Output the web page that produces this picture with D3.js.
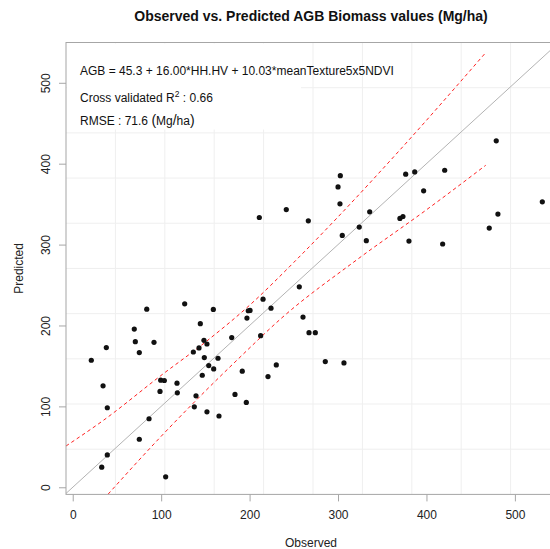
<!DOCTYPE html>
<html>
<head>
<meta charset="utf-8">
<script src="https://cdn.jsdelivr.net/npm/d3@7"></script>
<style>
  body { margin: 0; background: #fff; }
  svg { font-family: "Liberation Sans", Arial, sans-serif; }
</style>
</head>
<body>
<div id="chart"></div>
<script>
// observed vs predicted AGB (Mg/ha)
const observed = [211, 241.5, 83.7, 126.6, 159, 144.3, 197, 198.5, 200.5, 215.2, 224.2, 69.6, 256.2,
                  478.9, 302.6, 300, 302.2, 376.5, 386.7, 420.6, 396.8, 531, 480.8, 471, 335.8, 324,
                  370, 373.4, 266.4, 304.8, 332, 380.2, 418.3, 260.4, 70.8, 38, 91.9, 75.3, 21, 136.4,
                  142.8, 148.4, 151.8, 148.8, 164.3, 179.8, 153.8, 159.4, 146.5, 191.7, 212.5, 220.8,
                  230.2, 99.5, 103.6, 117.9, 34.3, 98.7, 118.3, 139.4, 183.5, 137.5, 151.8, 165.4,
                  196.3, 39.1, 86.3, 75.3, 39.1, 32.8, 105.1, 267.2, 274.3, 285.6, 306.7];
const predicted = [333.5, 343.3, 220.2, 226.8, 219.8, 202.2, 209.1, 218.2, 218.6, 232.5, 221.4, 195.6, 247.8,
                   428.3, 385.2, 371.3, 350.4, 387, 389.8, 391.9, 366.4, 352.8, 337.7, 320.4, 340.5, 321.7,
                   332.3, 334.7, 329.4, 311.3, 304.8, 304.4, 300.7, 210.4, 180, 172.7, 179.2, 166.5, 157, 167.2,
                   172.2, 181.7, 177.1, 160.3, 159.5, 185, 150.5, 146.3, 138.5, 143.5, 187.4, 136.9,
                   151.2, 132.4, 132, 128.7, 125.4, 118.5, 116.8, 113.1, 114.8, 99.5, 93.3, 88.1,
                   104.9, 98.3, 84.7, 59.4, 40, 24.9, 12.9, 191.1, 191.1, 155.4, 153.7];

// confidence band (red dashed)
const upperObs  = [-7.6, 35, 99, 153, 202, 250, 298.5, 370, 466];
const upperPred = [51, 83, 137.5, 182, 227, 278, 332.5, 417, 536];
const lowerObs  = [40, 100, 150, 187, 236, 321, 400, 467];
const lowerPred = [-8.5, 63, 119, 158.5, 209, 281, 343, 398];

const xTicks = [0, 100, 200, 300, 400, 500];
const yTicks = [0, 100, 200, 300, 400, 500];

const title = "Observed vs. Predicted AGB Biomass values (Mg/ha)";
const equation = "AGB = 45.3 + 16.00*HH.HV + 10.03*meanTexture5x5NDVI";
const r2 = "0.66";
const rmse = "71.6";

const W = 550, H = 549;
const plot = {left: 66, right: 560, top: 42.5, bottom: 494.4};
const axisColor = "#a6a6a6";
const gridColor = "#efefef";

const svg = d3.select("#chart")
              .append("svg")
              .attr("width", W)
              .attr("height", H);

const xScale = d3.scaleLinear().domain([-7.6, 551]).range([plot.left, plot.right]);
const yScale = d3.scaleLinear().domain([-8.8, 549.8]).range([plot.bottom, plot.top]);

svg.append("clipPath").attr("id", "clip")
   .append("rect")
   .attr("x", plot.left).attr("y", plot.top)
   .attr("width", plot.right - plot.left).attr("height", plot.bottom - plot.top);

// grid: 10 x 10 divisions of the plot region
const gx = d3.range(1, 10).map(i => plot.left + i * (plot.right - plot.left) / 10);
const gy = d3.range(1, 10).map(i => plot.top + i * (plot.bottom - plot.top) / 10);
const grid = svg.append("g").attr("stroke", gridColor).attr("stroke-width", 1);
grid.selectAll(".gx").data(gx).join("line")
    .attr("x1", d => d).attr("x2", d => d)
    .attr("y1", plot.top).attr("y2", plot.bottom);
grid.selectAll(".gy").data(gy).join("line")
    .attr("y1", d => d).attr("y2", d => d)
    .attr("x1", plot.left).attr("x2", plot.right);

// legend background
svg.append("rect")
   .attr("x", plot.left + 1).attr("y", plot.top + 1)
   .attr("width", 234).attr("height", 86)
   .attr("fill", "#fff");

const body = svg.append("g").attr("clip-path", "url(#clip)");

// 1:1 line
body.append("line")
    .attr("x1", xScale(-20)).attr("y1", yScale(-20))
    .attr("x2", xScale(600)).attr("y2", yScale(600))
    .attr("stroke", "#b3b3b3").attr("stroke-width", 1);

// bands
const band = d3.line().x(d => xScale(d[0])).y(d => yScale(d[1])).curve(d3.curveMonotoneX);
[[upperObs, upperPred], [lowerObs, lowerPred]].forEach(([xs, ys]) => {
    body.append("path")
        .attr("d", band(xs.map((x, i) => [x, ys[i]])))
        .attr("fill", "none")
        .attr("stroke", "#ff2020")
        .attr("stroke-width", 1)
        .attr("stroke-dasharray", "3.5,3");
});

// points
body.selectAll("circle")
    .data(observed.map((o, i) => [o, predicted[i]]))
    .join("circle")
    .attr("cx", d => xScale(d[0]))
    .attr("cy", d => yScale(d[1]))
    .attr("r", 2.6)
    .attr("fill", "#111");

// box
svg.append("rect")
   .attr("x", plot.left).attr("y", plot.top)
   .attr("width", plot.right - plot.left).attr("height", plot.bottom - plot.top)
   .attr("fill", "none").attr("stroke", axisColor);

// X axis
svg.append("g")
   .attr("transform", `translate(0, ${plot.bottom})`)
   .call(d3.axisBottom(xScale).tickValues(xTicks).tickSize(7).tickPadding(9).tickFormat(d3.format("d")))
   .call(g => {
       g.select(".domain").remove();
       g.selectAll("line").attr("stroke", axisColor);
       g.selectAll("text").attr("fill", "#222").style("font-size", "12px")
        .style("font-family", "'Liberation Sans', Arial, sans-serif");
   });

// Y axis (rotated labels, like R)
svg.append("g")
   .attr("transform", `translate(${plot.left}, 0)`)
   .call(d3.axisLeft(yScale).tickValues(yTicks).tickSize(7).tickFormat(d3.format("d")))
   .call(g => {
       g.select(".domain").remove();
       g.selectAll("line").attr("stroke", axisColor);
       g.selectAll("text")
        .attr("x", null).attr("dy", null)
        .attr("transform", "translate(-16, 0) rotate(-90)")
        .attr("text-anchor", "middle")
        .attr("fill", "#222").style("font-size", "12px")
        .style("font-family", "'Liberation Sans', Arial, sans-serif");
   });

// titles
svg.append("text")
   .attr("x", 311).attr("y", 21)
   .attr("text-anchor", "middle")
   .style("font-size", "14px").style("font-weight", "bold")
   .attr("fill", "#111")
   .text(title);

svg.append("text")
   .attr("x", 311).attr("y", 547)
   .attr("text-anchor", "middle")
   .style("font-size", "12px").attr("fill", "#222")
   .text("Observed");

svg.append("text")
   .attr("transform", `translate(22.5, ${(plot.top + plot.bottom) / 2}) rotate(-90)`)
   .attr("text-anchor", "middle")
   .style("font-size", "12px").attr("fill", "#222")
   .text("Predicted");

// legend text
const leg = svg.append("g").attr("fill", "#111").style("font-size", "12px");
leg.append("text").attr("x", 80).attr("y", 74.5).text(equation);

const r2Text = leg.append("text").attr("x", 80).attr("y", 101.5);
r2Text.append("tspan").text("Cross validated R");
r2Text.append("tspan").attr("dy", -5).style("font-size", "8.5px").text("2");
r2Text.append("tspan").attr("dy", 5).text(" :  " + r2);

const rmseText = leg.append("text").attr("x", 80).attr("y", 124.5);
rmseText.append("tspan").text("RMSE :  " + rmse + " ");
rmseText.append("tspan").style("font-size", "14px").text("(");
rmseText.append("tspan").text("Mg");
rmseText.append("tspan").style("font-size", "14px").text("/");
rmseText.append("tspan").text("ha");
rmseText.append("tspan").style("font-size", "14px").text(")");
</script>
</body>
</html>
